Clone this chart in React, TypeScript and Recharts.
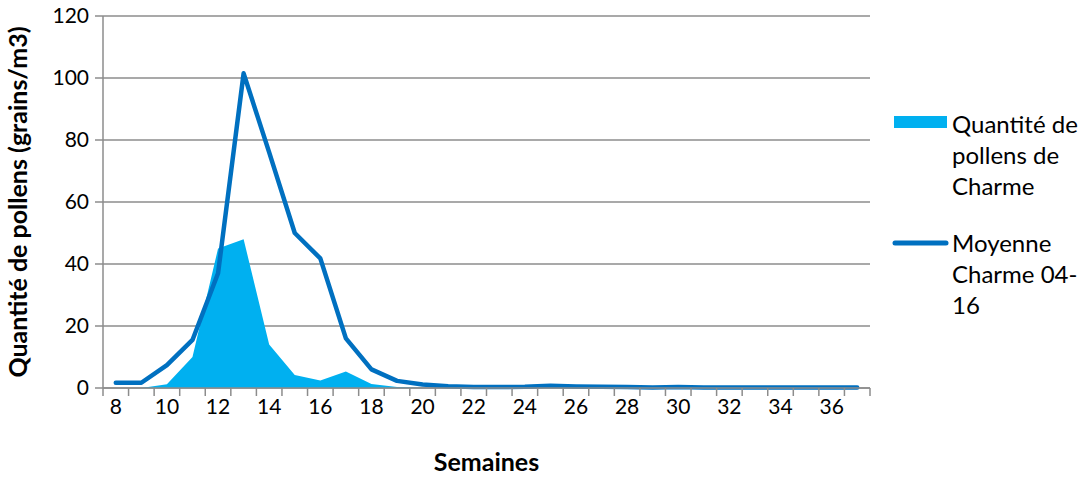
import React from 'react';
import {
  ComposedChart,
  Area,
  Line,
  XAxis,
  YAxis,
  CartesianGrid,
  Legend
} from 'recharts';

const weeks = [8, 9, 10, 11, 12, 13, 14, 15, 16, 17, 18, 19, 20, 21, 22, 23, 24, 25, 26, 27, 28, 29, 30, 31, 32, 33, 34, 35, 36, 37];
const pollenCharme = [0, 0, 1.2, 10, 45, 48, 14, 4.2, 2.4, 5.3, 1.3, 0.3, 0, 0, 0, 0, 0, 0, 0, 0, 0, 0, 0, 0, 0, 0, 0, 0, 0, 0];
const moyenneCharme = [1.7, 1.7, 7.4, 15.5, 37, 101.5, 76, 50, 41.8, 16, 6, 2.3, 1.1, 0.6, 0.3, 0.3, 0.4, 0.7, 0.5, 0.4, 0.3, 0.2, 0.3, 0.2, 0.2, 0.2, 0.2, 0.2, 0.2, 0.2];
const weekLabels = [8, 10, 12, 14, 16, 18, 20, 22, 24, 26, 28, 30, 32, 34, 36];
const yTicks = [0, 20, 40, 60, 80, 100, 120];

const seriesKeys = ['pollen', 'moyenne'];
const legendLines: Record<string, string[]> = {
  pollen: ['Quantité de', 'pollens de', 'Charme'],
  moyenne: ['Moyenne', 'Charme 04-', '16']
};

const data = weeks.map((week, i) => ({
  week,
  pollen: pollenCharme[i],
  moyenne: moyenneCharme[i]
}));

// category boundaries, where Excel puts its tick marks
const boundaries = weeks.map((w) => w - 0.5).concat(weeks[weeks.length - 1] + 0.5);

const FONT = 'Lato, "Open Sans", sans-serif';
const GRID = '#8c8c8c';
const LIGHT = '#00B0F0';
const DARK = '#0070C0';

const W = 1091;
const H = 479;
const margin = { top: 16, right: 221, bottom: 0, left: 0 };
const Y_WIDTH = 103;
const HALF = (W - margin.right - Y_WIDTH) / weeks.length / 2;

function WeekTick(props: any) {
  const { x, y, payload } = props;
  const w = payload.value + 0.5;
  if (!weekLabels.includes(w)) return <g />;
  return (
    <text x={x + HALF} y={y} dy="0.78em" textAnchor="middle" fontSize={21} fill="#000" fontFamily={FONT}>
      {w}
    </text>
  );
}

function renderLegend() {
  return (
    <div style={{ position: 'relative', width: 211, height: 230, fontFamily: FONT, fontSize: 24, lineHeight: '31px', color: '#000' }}>
      {seriesKeys.map((key, i) => {
        const top = i === 0 ? 8 : 127;
        return (
          <div key={key} style={{ position: 'absolute', left: 0, top, width: 211 }}>
            <svg width={72} height={34} style={{ position: 'absolute', left: 0, top: 0 }}>
              {key === 'moyenne' ? (
                <line x1={15} x2={66} y1={16} y2={16} stroke={DARK} strokeWidth={5} strokeLinecap="round" />
              ) : (
                <rect x={14} y={8} width={53} height={12} fill={LIGHT} />
              )}
            </svg>
            <div style={{ position: 'absolute', left: 72, top: 0, whiteSpace: 'nowrap' }}>
              {legendLines[key].map((l) => (
                <div key={l}>{l}</div>
              ))}
            </div>
          </div>
        );
      })}
    </div>
  );
}

export default function App() {
  return (
    <div style={{ position: 'absolute', left: 0, top: 0 }}>
      <ComposedChart width={W} height={H} data={data} margin={margin}>
        <CartesianGrid vertical={false} stroke={GRID} strokeWidth={1.5} />
        <XAxis
          dataKey="week"
          type="number"
          domain={[7.5, 37.5]}
          ticks={boundaries}
          interval={0}
          height={91}
          tickSize={8}
          tickMargin={2}
          stroke={GRID}
          strokeWidth={1.5}
          tick={<WeekTick />}
          label={{
            value: 'Semaines',
            position: 'insideBottom',
            offset: 8,
            style: { fontFamily: FONT, fontWeight: 700, fontSize: 25, fill: '#000' }
          }}
        />
        <YAxis
          type="number"
          domain={[0, 120]}
          ticks={yTicks}
          interval={0}
          width={Y_WIDTH}
          tickSize={8}
          tickMargin={6}
          stroke={GRID}
          strokeWidth={1.5}
          tick={{ fontSize: 21, fill: '#000', fontFamily: FONT }}
          label={{
            value: 'Quantité de pollens (grains/m3)',
            angle: -90,
            position: 'insideLeft',
            offset: 18,
            style: { textAnchor: 'middle', fontFamily: FONT, fontWeight: 700, fontSize: 25, fill: '#000' }
          }}
        />
        <Area
          type="linear"
          dataKey="pollen"
          name="Quantité de pollens de Charme"
          fill={LIGHT}
          fillOpacity={1}
          stroke="none"
          isAnimationActive={false}
        />
        <Line
          type="linear"
          dataKey="moyenne"
          name="Moyenne Charme 04-16"
          stroke={DARK}
          strokeWidth={4.5}
          strokeLinecap="round"
          strokeLinejoin="round"
          dot={false}
          activeDot={false}
          isAnimationActive={false}
        />
        <Legend
          layout="vertical"
          align="center"
          verticalAlign="middle"
          content={renderLegend}
          wrapperStyle={{ left: 880, top: 100, width: 211 }}
        />
      </ComposedChart>
    </div>
  );
}
